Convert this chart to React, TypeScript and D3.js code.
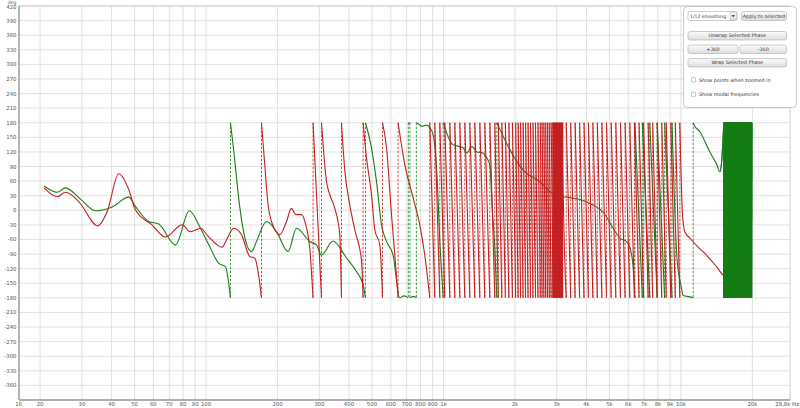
import React, { useRef, useEffect } from "react";
import * as d3 from "d3";

// Unwrapped phase (deg), frequencies in Hz
const redFreq = [
  20.8, 23.6, 25.6, 29.1, 35.0, 38.3, 42.9, 47.3, 50.4, 59.2, 67.5, 79.2, 86.0,
  94.7, 102.7, 116.8, 121.9, 130.8, 141.0, 152.8, 160.4, 165.6, 171.2, 176.7,
  182.5, 188.6, 194.8, 204.4, 218.2, 228.9, 238.7, 252.3, 263.0, 273.4, 282.3,
  306.3, 321.6, 332.0, 348.5, 365.8, 371.8, 383.9, 403.0, 423.0, 451.4, 458.5,
  474.0, 497.5, 513.7, 539.3, 553.5, 575.4, 604.0, 623.6, 643.9, 687.1, 744.6,
  794.5, 834.0, 875.5, 1000, 1645, 2000, 2544, 2886, 3180, 4553, 6713, 9895,
  10156, 10385, 10900, 11785, 12820, 14125, 15060, 19900,
];
const redPhase = [
  46, 28, 37, 18, -32, -3, 75, 42, 1, -30, -55, -30, -44,
  -37, -55, -76, -61, -37, -50, -95, -98, -126, -180, -266,
  -349, -383, -400, -410, -383, -356, -369, -369, -390, -438, -540,
  -900, -1021, -1048, -1076, -1130, -1260, -1357, -1429, -1480, -1542, -1620,
  -1692, -1768, -1840, -1871, -1980, -2031, -2169, -2251, -2340, -2426, -2494,
  -2550, -2612, -2700, -3686, -7380, -9440, -13040, -15640, -21500, -24500, -27600, -30780,
  -30969, -31004, -31017, -31035, -31052, -31076, -31093, -31113,
];

const greenFreq = [
  20.8, 23.6, 25.6, 29.6, 34.2, 40.2, 47.3, 50.4, 57.4, 63.2, 74.3, 85.1, 94.7,
  102.7, 113.1, 120.7, 126.7, 130.4, 138.9, 145.8, 155.4, 163.1, 179.6, 198.0,
  221.5, 240.4, 273.4, 291.7, 306.3, 342.8, 390.4, 430.0, 458.5, 469.3, 497.5,
  522.3, 548.2, 575.4, 613.4, 654.6, 680.5, 700.4, 716.3, 728.3, 749.8, 781.6,
  810.2, 848.0, 875.5, 904, 937.1, 964.7, 997, 1094.5, 1206, 1254, 1316, 1382,
  1464, 1537, 1567, 1606, 1645, 1677, 1693, 1813, 2036, 2200, 2544, 2750, 3001,
  3404, 3751, 4256, 4690, 5167, 5529, 5919, 6093, 6272, 6402, 9173, 9630, 9993,
  10224, 10942, 11266, 11376, 12036, 13238, 14165, 14580, 14866, 15157, 19900,
];
const greenPhase = [
  50, 37, 46, 23, -1, 7, 27, 8, -23, -28, -71, -1, -37,
  -71, -109, -116, -180, -232, -356, -417, -445, -424, -383, -404,
  -445, -397, -424, -431, -452, -423, -458, -486, -513, -540, -592,
  -661, -750, -784, -812, -900, -896, -898, -901, -899, -897, -902,
  -907, -905, -910, -925, -1000, -1140, -1260, -1305, -1311, -1322, -1309, -1320,
  -1322, -1336, -1346, -1439, -1517, -1620, -1624, -1655, -1700, -1721, -1741, -1758, -1770,
  -1774, -1778, -1789, -1803, -1836, -1857, -1865, -1877, -1910, -1980, -3780, -4060, -4113,
  -4135, -4138, -4140, -4145, -4159, -4200, -4226, -4241, -4216, -4140, 35460,
];

const yTickValues = [
  -360, -330, -300, -270, -240, -210, -180, -150, -120, -90, -60, -30, 0, 30, 60,
  90, 120, 150, 180, 210, 240, 270, 300, 330, 360, 390, 420,
];
const xTickValues = [
  16, 20, 30, 40, 50, 60, 70, 80, 90, 100, 200, 300, 400, 500, 600, 700, 800, 900,
  1000, 2000, 3000, 4000, 5000, 6000, 7000, 8000, 9000, 10000, 20000,
];
const xTickLabels = [
  "16", "20", "30", "40", "50", "60", "70", "80", "90", "100", "200", "300", "400",
  "500", "600", "700", "800", "900", "1k", "2k", "3k", "4k", "5k", "6k", "7k", "8k",
  "9k", "10k", "20k",
];

const RED = "#c21f1f";
const GREEN = "#167d16";

type Pt = [number, number];

// turn unwrapped phase into wrapped segments (+/-180) and the x of each jump
function wrapTrace(xs: number[], us: number[]) {
  const segs: Pt[][] = [];
  const jumps: number[] = [];
  const eps = 1e-6;
  let n = Math.round(us[0] / 360);
  let cur: Pt[] = [[xs[0], us[0] - 360 * n]];
  const push = (p: Pt) => {
    const last = cur[cur.length - 1];
    if (last && Math.abs(last[0] - p[0]) < 1e-9) {
      last[1] = p[1];
      return;
    }
    cur.push(p);
  };
  for (let i = 1; i < xs.length; i++) {
    const xa = xs[i - 1], ua = us[i - 1], xb = xs[i], ub = us[i];
    for (;;) {
      const d = ub - 360 * n;
      if (d < -180 - eps) {
        const b = -180 + 360 * n;
        const xc = xa + ((b - ua) / (ub - ua)) * (xb - xa);
        push([xc, -180]);
        segs.push(cur);
        jumps.push(xc);
        n -= 1;
        cur = [[xc, 180]];
      } else if (d > 180 + eps) {
        const b = 180 + 360 * n;
        const xc = xa + ((b - ua) / (ub - ua)) * (xb - xa);
        push([xc, 180]);
        segs.push(cur);
        jumps.push(xc);
        n += 1;
        cur = [[xc, -180]];
      } else break;
    }
    push([xb, ub - 360 * n]);
  }
  segs.push(cur);
  return { segs, jumps };
}

export default function App() {
  const svgRef = useRef<SVGSVGElement>(null);

  useEffect(() => {
    if (!svgRef.current) return;
    document.body.style.margin = "0";

    const width = 800;
    const height = 408;
    const left = 19, right = 790, top = 6, bottom = 400;

    const svg = d3.select(svgRef.current).attr("width", width).attr("height", height);
    svg.selectAll("*").remove();

    const x = d3.scaleLog().domain([16.3, 28800]).range([left, right]);
    const y = d3.scaleLinear().domain([-390, 420]).range([bottom, top]);

    svg.append("rect").attr("width", width).attr("height", height).attr("fill", "#fff");

    // grid
    const grid = svg.append("g").attr("stroke", "#d9d9d9").attr("stroke-width", 0.8);
    yTickValues.forEach((v) => {
      grid.append("line").attr("x1", left).attr("x2", right)
        .attr("y1", y(v)).attr("y2", y(v));
    });
    xTickValues.slice(1).forEach((v) => {
      grid.append("line").attr("x1", x(v)).attr("x2", x(v))
        .attr("y1", top).attr("y2", bottom);
    });

    const defs = svg.append("defs");
    defs.append("clipPath").attr("id", "plotClip").append("rect")
      .attr("x", left).attr("y", top - 1).attr("width", right - left).attr("height", bottom - top + 2);
    defs.append("clipPath").attr("id", "hiClip").append("rect")
      .attr("x", x(14600)).attr("y", top - 1).attr("width", right - x(14600)).attr("height", bottom - top + 2);

    const line = d3.line<Pt>().x((d) => d[0]).y((d) => y(d[1])).curve(d3.curveMonotoneX);

    const drawTrace = (freq: number[], phase: number[], color: string, clip: string) => {
      const { segs, jumps } = wrapTrace(freq.map((f) => x(f)), phase);
      const g = svg.append("g").attr("clip-path", `url(#${clip})`);
      g.selectAll(".jump").data(jumps).join("line")
        .attr("x1", (d) => d).attr("x2", (d) => d)
        .attr("y1", y(180)).attr("y2", y(-180))
        .attr("stroke", color).attr("stroke-width", 0.8)
        .attr("stroke-dasharray", "2.5,1.5");
      g.selectAll(".seg").data(segs).join("path")
        .attr("d", (d) => line(d))
        .attr("fill", "none").attr("stroke", color).attr("stroke-width", 1.1);
    };

    drawTrace(greenFreq, greenPhase, GREEN, "plotClip");
    drawTrace(redFreq, redPhase, RED, "plotClip");
    drawTrace(greenFreq, greenPhase, GREEN, "hiClip");

    // frame
    svg.append("rect").attr("x", left).attr("y", top).attr("width", right - left)
      .attr("height", bottom - top).attr("fill", "none").attr("stroke", "#c4c4c4").attr("stroke-width", 0.8);
    svg.append("line").attr("x1", left).attr("x2", left).attr("y1", top).attr("y2", bottom)
      .attr("stroke", "#9a9a9a").attr("stroke-width", 1.3);
    svg.append("line").attr("x1", left).attr("x2", right).attr("y1", bottom).attr("y2", bottom)
      .attr("stroke", "#9a9a9a").attr("stroke-width", 1.3);

    const font = "'DejaVu Sans', sans-serif";
    const labels = svg.append("g").attr("font-family", font).attr("font-size", 5.4).attr("fill", "#555");
    yTickValues.forEach((v) => {
      labels.append("text").attr("x", 16.5).attr("y", v === 420 ? y(v) + 2.6 : y(v) + 2)
        .attr("text-anchor", "end").text(String(v));
    });
    labels.append("text").attr("x", 16.5).attr("y", 4.2).attr("font-size", 4.6)
      .attr("text-anchor", "end").text("deg");
    xTickValues.forEach((v, i) => {
      labels.append("text").attr("x", x(v) + (i === 0 ? 1.5 : 0)).attr("y", 405.5)
        .attr("text-anchor", "middle").text(xTickLabels[i]);
    });
    labels.append("text").attr("x", 799).attr("y", 405.5).attr("text-anchor", "end").text("28,8k Hz");

    // control panel
    const grad = defs.append("linearGradient").attr("id", "btn").attr("x1", 0).attr("x2", 0).attr("y1", 0).attr("y2", 1);
    grad.append("stop").attr("offset", "0%").attr("stop-color", "#fbfbfb");
    grad.append("stop").attr("offset", "100%").attr("stop-color", "#dedede");

    const panel = svg.append("g").attr("font-family", font).attr("fill", "#333");
    panel.append("rect").attr("x", 683.5).attr("y", 6.5).attr("width", 113).attr("height", 101)
      .attr("rx", 4).attr("fill", "#fff").attr("stroke", "#bcbcbc").attr("stroke-width", 0.8);

    const button = (bx: number, by: number, bw: number, bh: number, label: string) => {
      panel.append("rect").attr("x", bx).attr("y", by).attr("width", bw).attr("height", bh)
        .attr("rx", 2).attr("fill", "url(#btn)").attr("stroke", "#a9a9a9").attr("stroke-width", 0.6);
      panel.append("text").attr("x", bx + bw / 2).attr("y", by + bh / 2 + 1.7)
        .attr("text-anchor", "middle").attr("font-size", 4.9).attr("fill", "#333").text(label);
    };

    panel.append("rect").attr("x", 688).attr("y", 11.5).attr("width", 49).attr("height", 9)
      .attr("rx", 1.5).attr("fill", "#fff").attr("stroke", "#a9a9a9").attr("stroke-width", 0.6);
    panel.append("text").attr("x", 690).attr("y", 17.7).attr("font-size", 4.6).text("1/12 smoothing");
    panel.append("rect").attr("x", 730).attr("y", 12).attr("width", 6.5).attr("height", 8)
      .attr("fill", "url(#btn)").attr("stroke", "#b5b5b5").attr("stroke-width", 0.5);
    panel.append("path").attr("d", "M731.6,15 L734.9,15 L733.25,17.5 Z").attr("fill", "#444");

    button(741.5, 11.5, 45, 9, "Apply to selected");
    button(688, 31.5, 98.5, 8.5, "Unwrap Selected Phase");
    button(688, 45, 50, 8.5, "+360");
    button(740, 45, 46.5, 8.5, "-360");
    button(688, 58.5, 98.5, 8.5, "Wrap Selected Phase");

    const check = (cy: number, label: string) => {
      panel.append("rect").attr("x", 691.5).attr("y", cy - 2.2).attr("width", 4.2).attr("height", 4.2)
        .attr("fill", "#fff").attr("stroke", "#9c9c9c").attr("stroke-width", 0.5);
      panel.append("text").attr("x", 699).attr("y", cy + 1.7).attr("font-size", 4.9).text(label);
    };
    check(80, "Show points when zoomed in");
    check(94.3, "Show modal frequencies");
  }, []);

  return <svg ref={svgRef} style={{ display: "block" }}></svg>;
}
